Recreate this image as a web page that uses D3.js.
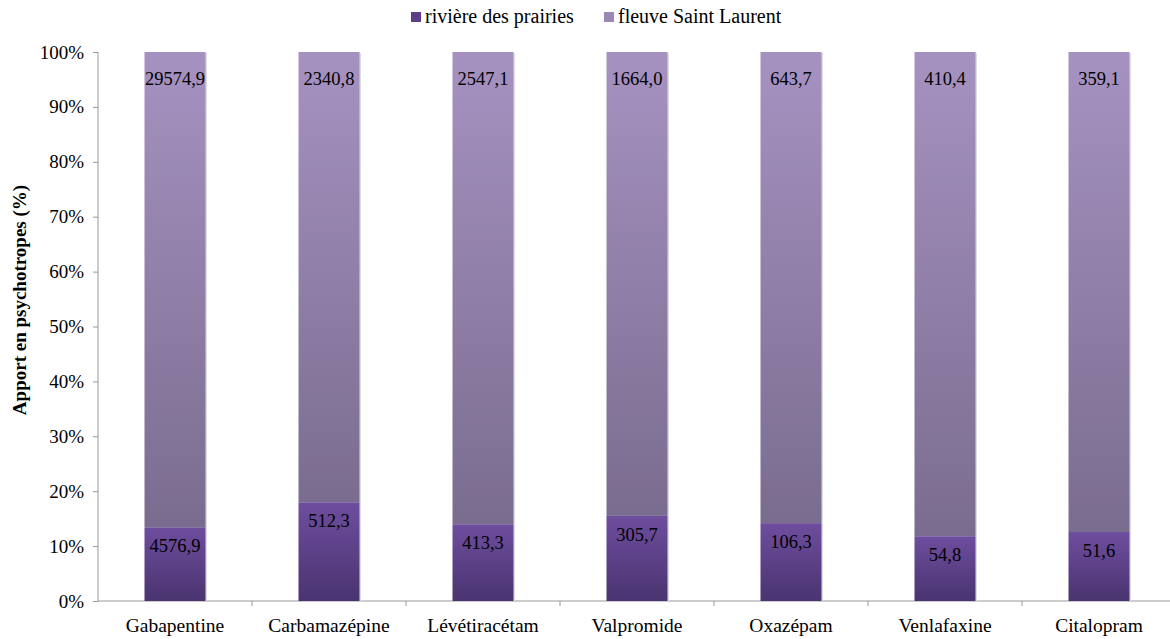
<!DOCTYPE html>
<html><head><meta charset="utf-8">
<script src="https://cdn.jsdelivr.net/npm/d3@7"></script>
<style>body{margin:0;background:#fff}svg{display:block}</style>
</head><body>
<svg id="c" width="1170" height="639"></svg>
<script>
const categories = ["Gabapentine","Carbamazépine","Lévétiracétam","Valpromide","Oxazépam","Venlafaxine","Citalopram"];
const riviere = [4576.9, 512.3, 413.3, 305.7, 106.3, 54.8, 51.6];
const fleuve = [29574.9, 2340.8, 2547.1, 1664.0, 643.7, 410.4, 359.1];
const seriesNames = ["rivière des prairies","fleuve Saint Laurent"];
const yTicks = [0,0.1,0.2,0.3,0.4,0.5,0.6,0.7,0.8,0.9,1];

const svg = d3.select("#c");
const font = "'Liberation Serif','Times New Roman',serif";
const x = d3.scaleBand().domain(categories).range([98,1176]).paddingInner(0).paddingOuter(0);
const y = d3.scaleLinear().domain([0,1]).range([601,52]);
const bw = 61;

const defs = svg.append("defs");
const g1 = defs.append("linearGradient").attr("id","gR").attr("x1",0).attr("y1",1).attr("x2",0).attr("y2",0);
g1.append("stop").attr("offset","0%").attr("stop-color","#4a3470");
g1.append("stop").attr("offset","100%").attr("stop-color","#6e4d9e");
const g2 = defs.append("linearGradient").attr("id","gF").attr("x1",0).attr("y1",0).attr("x2",0).attr("y2",1);
g2.append("stop").attr("offset","0%").attr("stop-color","#a692c1");
g2.append("stop").attr("offset","100%").attr("stop-color","#7a6c8f");

const fmt = v => v.toFixed(1).replace(".", ",");
const data = categories.map((c,i)=>{const t=riviere[i]+fleuve[i];return {c, r:riviere[i], f:fleuve[i], pr:riviere[i]/t};});

// axes
const yAxis = svg.append("g").attr("transform","translate(98,0)")
  .call(d3.axisLeft(y).tickValues(yTicks).tickSize(5).tickFormat(d3.format(".0%")));
yAxis.select(".domain").attr("stroke","#999").attr("d","M0,52V601");
yAxis.selectAll(".tick line").attr("stroke","#999");
yAxis.selectAll("text").attr("font-family",font).attr("font-size",19).attr("fill","#000").attr("dx",-6);

const xAxis = svg.append("g").attr("transform","translate(0,601)");
xAxis.append("line").attr("x1",98).attr("x2",1176).attr("stroke","#999");
xAxis.selectAll("line.t").data(categories.slice(1)).enter().append("line")
  .attr("x1",d=>x(d)).attr("x2",d=>x(d)).attr("y1",0).attr("y2",5).attr("stroke","#999");
xAxis.selectAll("text").data(categories).enter().append("text")
  .attr("x",d=>x(d)+x.bandwidth()/2).attr("y",31).attr("text-anchor","middle")
  .attr("font-family",font).attr("font-size",19.5).text(d=>d);

// bars
const bars = svg.append("g");
bars.selectAll("rect.s").data(data).enter().append("rect")
  .attr("x",d=>x(d.c)+x.bandwidth()/2-bw/2+1.5).attr("width",bw)
  .attr("y",y(1)+1).attr("height",y(0)-y(1)-1).attr("fill","#ddd");
bars.selectAll("rect.f").data(data).enter().append("rect")
  .attr("x",d=>x(d.c)+x.bandwidth()/2-bw/2).attr("width",bw)
  .attr("y",y(1)).attr("height",d=>y(d.pr)-y(1)).attr("fill","url(#gF)");
bars.selectAll("rect.r").data(data).enter().append("rect")
  .attr("x",d=>x(d.c)+x.bandwidth()/2-bw/2).attr("width",bw)
  .attr("y",d=>y(d.pr)).attr("height",d=>y(0)-y(d.pr)).attr("fill","url(#gR)");

bars.selectAll("text.f").data(data).enter().append("text")
  .attr("x",d=>x(d.c)+x.bandwidth()/2).attr("y",y(1)+33).attr("text-anchor","middle")
  .attr("font-family",font).attr("font-size",18.5).text(d=>fmt(d.f));
bars.selectAll("text.r").data(data).enter().append("text")
  .attr("x",d=>x(d.c)+x.bandwidth()/2).attr("y",d=>y(d.pr)+25).attr("text-anchor","middle")
  .attr("font-family",font).attr("font-size",18.5).text(d=>fmt(d.r));

// y title
svg.append("text").attr("transform","translate(26,300) rotate(-90)").attr("text-anchor","middle")
  .attr("font-family",font).attr("font-size",19).attr("font-weight","bold").text("Apport en psychotropes (%)");

// legend
const leg = [{n:seriesNames[0],c:"#5c3f88",x:411},{n:seriesNames[1],c:"#9a87b4",x:604}];
const lg = svg.append("g");
lg.selectAll("rect").data(leg).enter().append("rect").attr("x",d=>d.x).attr("y",12).attr("width",10).attr("height",10).attr("fill",d=>d.c);
lg.selectAll("text").data(leg).enter().append("text").attr("x",d=>d.x+14).attr("y",23)
  .attr("font-family",font).attr("font-size",20).text(d=>d.n);
</script>
</body></html>
